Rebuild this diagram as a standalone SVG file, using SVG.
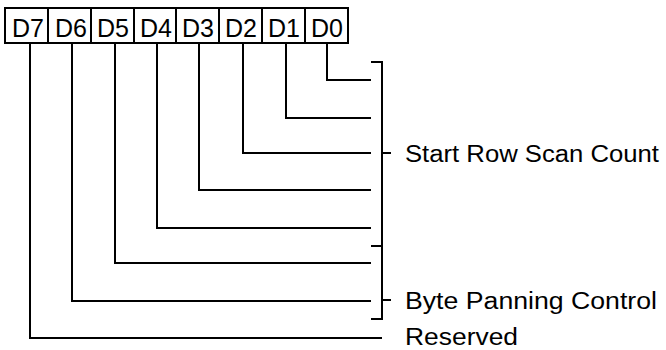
<svg xmlns="http://www.w3.org/2000/svg" width="666" height="350" viewBox="0 0 666 350">
<style>
.box{fill:#fff;stroke:#000;stroke-width:2}
.bit{font-family:"Liberation Sans",Arial,sans-serif;font-size:25px;fill:#000;text-anchor:middle}
.lbl{font-family:"Liberation Sans",Arial,sans-serif;font-size:23px;fill:#000}
.ln{fill:none;stroke:#000;stroke-width:2}
</style>
<rect width="666" height="350" fill="#fff"/>
<g id="register">
<rect class="box" x="5" y="8" width="343" height="35"/>
<path class="ln" d="M48 8V43M91 8V43M134 8V43M176 8V43M219 8V43M262 8V43M305 8V43"/>
<text class="bit" x="28" y="37">D7</text>
<text class="bit" x="71" y="37">D6</text>
<text class="bit" x="113" y="37">D5</text>
<text class="bit" x="156" y="37">D4</text>
<text class="bit" x="198" y="37">D3</text>
<text class="bit" x="241" y="37">D2</text>
<text class="bit" x="284" y="37">D1</text>
<text class="bit" x="327" y="37">D0</text>
</g>
<g id="connectors">
<path class="ln" d="M327 43V80H371"/>
<path class="ln" d="M286 43V118H371"/>
<path class="ln" d="M243 43V153H371"/>
<path class="ln" d="M199 43V190H371"/>
<path class="ln" d="M157 43V228H371"/>
<path class="ln" d="M115 43V263H371"/>
<path class="ln" d="M72 43V301H371"/>
<path class="ln" d="M30 43V338H382"/>
</g>
<g id="bracket-start">
<path class="ln" d="M371 62H382V246H371M382 153H391"/>
</g>
<g id="bracket-byte">
<path class="ln" d="M382 246V319H371M382 300H391"/>
</g>
<g id="label-start"><text class="lbl" x="405" y="162" textLength="254" lengthAdjust="spacingAndGlyphs">Start Row Scan Count</text></g>
<g id="label-byte"><text class="lbl" x="405" y="309" textLength="252" lengthAdjust="spacingAndGlyphs">Byte Panning Control</text></g>
<g id="label-reserved"><text class="lbl" x="405" y="345" textLength="113" lengthAdjust="spacingAndGlyphs">Reserved</text></g>
</svg>
